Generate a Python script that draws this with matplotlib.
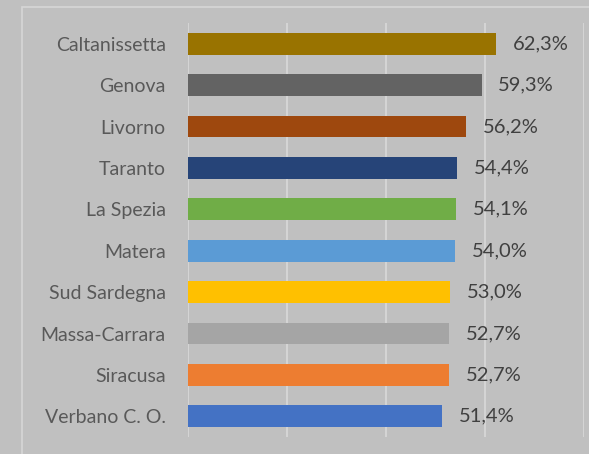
import matplotlib.pyplot as plt
from matplotlib.patches import Rectangle

cities = ["Caltanissetta", "Genova", "Livorno", "Taranto", "La Spezia",
          "Matera", "Sud Sardegna", "Massa-Carrara", "Siracusa", "Verbano C. O."]
values = [62.3, 59.3, 56.2, 54.4, 54.1, 54.0, 53.0, 52.7, 52.7, 51.4]
colors = ["#997300", "#636363", "#9e480e", "#264478", "#70ad47",
          "#5b9bd5", "#ffc000", "#a5a5a5", "#ed7d31", "#4472c4"]

bg = "#c0c0c0"
plt.rcParams['font.family'] = ['Lato', 'DejaVu Sans']

fig = plt.figure(figsize=(5.89, 4.54), dpi=100)
fig.patch.set_facecolor(bg)

# chart area border
fig.patches.append(Rectangle((22 / 589, -0.1), 1.2, 1 - 7 / 454 + 0.1,
                             transform=fig.transFigure, fill=False,
                             edgecolor="#d6d6d6", linewidth=1.2))

ax = fig.add_axes([188 / 589, 1 - 437 / 454, (584 - 188) / 589, (437 - 23) / 454])
ax.set_facecolor(bg)

y = list(range(len(cities)))
ax.barh(y, values, height=0.53, color=colors, zorder=3)
ax.set_ylim(len(cities) - 0.5, -0.5)
ax.set_xlim(0, 80)
ax.set_xticks([0, 20, 40, 60, 80])
ax.xaxis.grid(True, color="#d9d9d9", linewidth=1.2, zorder=0)
ax.tick_params(axis="x", length=0, labelbottom=False)
ax.tick_params(axis="y", length=0, pad=16)
ax.set_yticks(y)
ax.set_yticklabels(cities, fontsize=14, color="#595959")
for s in ax.spines.values():
    s.set_visible(False)

for yi, v in zip(y, values):
    ax.text(v + 3.4, yi, f"{v:.1f}%".replace(".", ","), va="center", ha="left",
            fontsize=14.5, color="#404040")

fig.savefig("out.png", dpi=100, facecolor=bg)
